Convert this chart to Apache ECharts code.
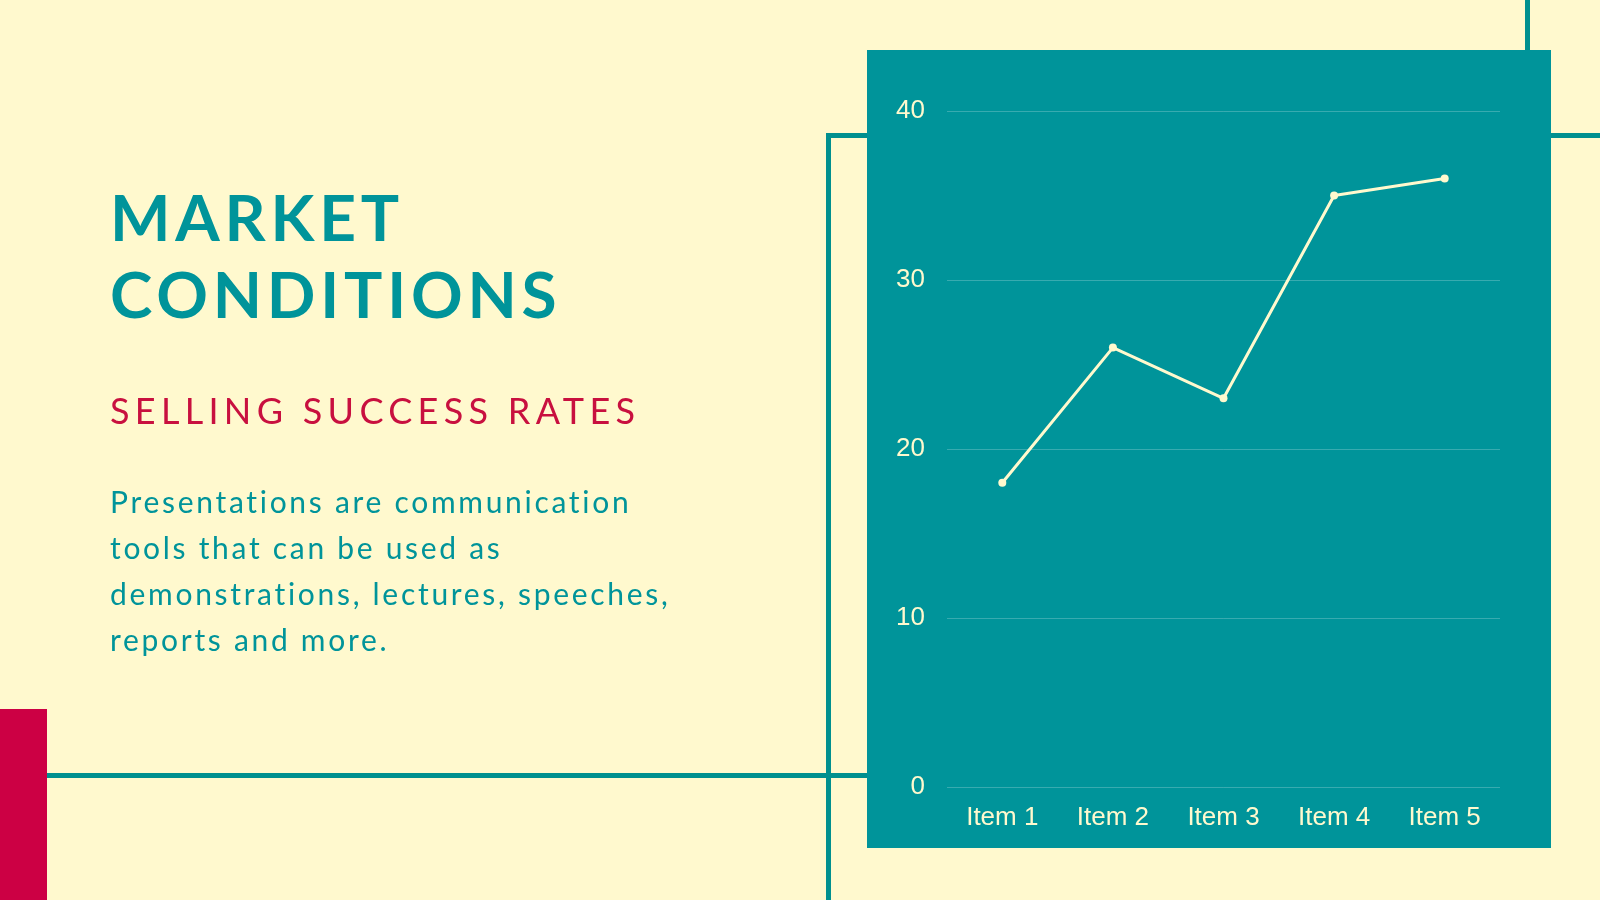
<!DOCTYPE html>
<html>
<head>
<meta charset="utf-8">
<script src="https://cdn.jsdelivr.net/npm/echarts@6/dist/echarts.min.js"></script>
<style>
  html, body { margin:0; padding:0; background:#FFF9CE; }
  #wrap { position:relative; width:1600px; height:900px; overflow:hidden; }
  #chart { position:absolute; left:0; top:0; width:1600px; height:900px; }
  .txt { position:absolute; left:110px; font-family: Lato, 'Open Sans', sans-serif; white-space:nowrap; }
  #title { top:178px; color:#00949A; font-weight:700; font-size:64px; line-height:77px; letter-spacing:4.8px; }
  #sub { top:388px; color:#C8103F; font-weight:400; font-size:36px; line-height:44px; letter-spacing:5.3px; }
  #body { top:478px; color:#00949A; font-weight:400; font-size:30px; line-height:46px; letter-spacing:2.7px; }
</style>
</head>
<body>
<div id="wrap">
  <div id="chart"></div>
  <div class="txt" id="title">MARKET<br>CONDITIONS</div>
  <div class="txt" id="sub">SELLING SUCCESS RATES</div>
  <div class="txt" id="body">Presentations are communication<br>tools that can be used as<br>demonstrations, lectures, speeches,<br>reports and more.</div>
</div>
<script>
const categories = ['Item 1', 'Item 2', 'Item 3', 'Item 4', 'Item 5'];
const seriesValues = [18, 26, 23, 35, 36];
const yTicks = { min: 0, max: 40, interval: 10 };

const teal = '#00949A';
const lineTeal = '#00908F';
const cream = '#FFF9CE';

const chart = echarts.init(document.getElementById('chart'));
chart.setOption({
  backgroundColor: cream,
  animation: false,
  graphic: [
    { type: 'rect', z: -10, shape: { x: 1525, y: 0, width: 5, height: 60 }, style: { fill: lineTeal } },
    { type: 'rect', z: -10, shape: { x: 826, y: 133, width: 774, height: 5 }, style: { fill: lineTeal } },
    { type: 'rect', z: -10, shape: { x: 826, y: 133, width: 5, height: 767 }, style: { fill: lineTeal } },
    { type: 'rect', z: -10, shape: { x: 47, y: 773, width: 830, height: 5 }, style: { fill: lineTeal } },
    { type: 'rect', z: -9, shape: { x: 0, y: 709, width: 47, height: 191 }, style: { fill: '#CC0044' } },
    { type: 'rect', z: -5, shape: { x: 867, y: 50, width: 684, height: 798 }, style: { fill: teal } }
  ],
  grid: { left: 947, right: 100, top: 111, bottom: 113, containLabel: false },
  xAxis: {
    type: 'category',
    data: categories,
    boundaryGap: true,
    axisLine: { show: false },
    axisTick: { show: false },
    axisLabel: { color: '#FFF9CE', fontSize: 26, fontFamily: "'Liberation Sans', Arial, sans-serif", margin: 18 }
  },
  yAxis: {
    type: 'value',
    min: yTicks.min, max: yTicks.max, interval: yTicks.interval,
    axisLine: { show: false },
    axisTick: { show: false },
    splitLine: { lineStyle: { color: 'rgba(255,255,255,0.22)', width: 1 } },
    axisLabel: { color: '#FFF9CE', fontSize: 26, fontFamily: "'Liberation Sans', Arial, sans-serif", margin: 22, padding: [6, 0, 0, 0] }
  },
  series: [{
    type: 'line',
    data: seriesValues,
    symbol: 'circle',
    symbolSize: 8,
    lineStyle: { color: '#FFF9CE', width: 3 },
    itemStyle: { color: '#FFF9CE' }
  }]
});
</script>
</body>
</html>
